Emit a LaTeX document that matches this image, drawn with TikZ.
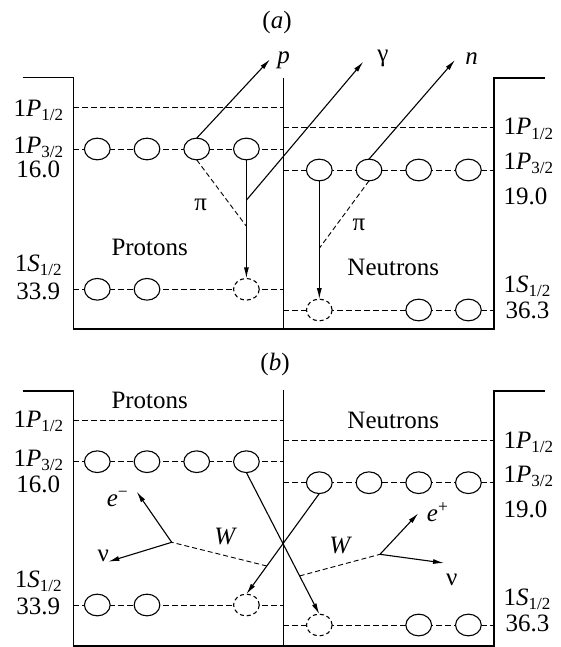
\documentclass[tikz,border=0pt]{standalone}
\usepackage{fontspec}
\setmainfont{Liberation Serif}
\usetikzlibrary{shapes.geometric, positioning, arrows.meta, calc, backgrounds}

\newcommand{\lsub}[1]{\raisebox{-4.2pt}[\height][0pt]{\fontsize{17}{20}\selectfont #1}}

\begin{document}
\begin{tikzpicture}[
    x=1pt, y=-1pt,
    node distance=24pt,
    wall/.style={line width=1.2pt},
    shell/.style={dash pattern=on 5.5pt off 3.5pt, line width=0.9pt},
    orb/.style={ellipse, draw, fill=white, line width=1.1pt, minimum width=25.7pt, minimum height=21.7pt, inner sep=0pt, outer sep=0pt},
    hole/.style={orb, dash pattern=on 4pt off 3pt},
    arrow/.style={-{Latex[length=11pt, width=5pt]}, line width=1.1pt},
    pion/.style={dash pattern=on 5pt off 3pt, line width=0.9pt},
    txt/.style={font=\fontsize{25}{30}\selectfont, inner sep=0pt},
]
\useasboundingbox (0,0) rectangle (561,647);

%% PANEL (a)
    % frame
    \coordinate (a_lt) at (73.3,77.7);
    \coordinate (a_lb) at (73.3,329);
    \coordinate (a_mt) at (283.3,77.7);
    \coordinate (a_mb) at (283.3,329);
    \coordinate (a_rt) at (494,78);
    \coordinate (a_rb) at (494,329);
    \draw[wall] ([xshift=-50.6pt]a_lt) -- (a_lt) -- (a_lb) -- (a_rb) -- (a_rt) -- ([xshift=51pt]a_rt);
    \draw[wall] (a_mt) -- (a_mb);

    % protons
    \node[orb] (pa1) at (97.3,149) {};
    \node[orb, right=of pa1] (pa2) {};
    \node[orb, right=of pa2] (pa3) {};
    \node[orb, right=of pa3] (pa4) {};
    \node[orb] (pas1) at (97.3,289.3) {};
    \node[orb, right=of pas1] (pas2) {};
    \node[hole] (pah) at (pa4 |- pas1) {};

    % neutrons
    \node[orb] (na1) at (319.3,170) {};
    \node[orb, right=of na1] (na2) {};
    \node[orb, right=of na2] (na3) {};
    \node[orb, right=of na3] (na4) {};
    \node[hole] (nah) at (319.3,310) {};
    \node[orb] (nas3) at (na3 |- nah) {};
    \node[orb] (nas4) at (na4 |- nah) {};

    \begin{scope}[on background layer]
    \draw[shell] (a_lt |- 0,107.3) -- (a_mt |- 0,107.3);
    \draw[shell] (a_lt |- pa1) -- (a_mt |- pa1);
    \draw[shell] (a_lt |- pah) -- (a_mt |- pah);
    \draw[shell] (a_mt |- 0,127.7) -- (a_rt |- 0,127.7);
    \draw[shell] (a_mt |- na1) -- (a_rt |- na1);
    \draw[shell] (a_mt |- nah) -- (a_rt |- nah);
    \end{scope}

    % labels
    \node[txt, anchor=base] (lab_a) at (277,29) {(\textit{a})};
    \node[txt, anchor=base] (pa_p12) at (38.3,116.7) {1\textit{P}\lsub{1/2}};
    \node[txt, anchor=base] (pa_p32) at (38.3,153.5) {1\textit{P}\lsub{3/2}};
    \node[txt, anchor=base] (pa_ep) at (38.3,178) {16.0};
    \node[txt, anchor=base] (pa_s12) at (38.3,271.7) {1\textit{S}\lsub{1/2}};
    \node[txt, anchor=base] (pa_es) at (38.3,299.3) {33.9};
    \node[txt, anchor=base west] (na_p12) at (503.5,135) {1\textit{P}\lsub{1/2}};
    \node[txt, anchor=base west] (na_p32) at (503.5,169.5) {1\textit{P}\lsub{3/2}};
    \node[txt, anchor=base west] (na_ep) at (503.5,204) {19.0};
    \node[txt, anchor=base west] (na_s12) at (503.5,292) {1\textit{S}\lsub{1/2}};
    \node[txt, anchor=base west] (na_es) at (505.5,318) {36.3};
    \node[txt, anchor=base] (prot_a) at (149.7,255) {Protons};
    \node[txt, anchor=base] (neut_a) at (393.3,275) {Neutrons};
    \node[txt, anchor=base] (lab_p) at (283.5,63.5) {\textit{p}};
    \node[txt, anchor=base] (lab_g) at (383,62) {γ};
    \node[txt, anchor=base] (lab_n) at (471.7,65) {\textit{n}};
    \node[txt, anchor=base] (pi_p) at (200.8,210) {π};
    \node[txt, anchor=base] (pi_n) at (359,230) {π};

    % connections
    \coordinate (p_tip) at (270,59.3);
    \coordinate (g_tip) at (363.3,61.7);
    \coordinate (n_tip) at (455,60);
    \coordinate (a_gam) at ($(pa4.south)!0.34!(pah.north)$);
    \coordinate (a_pip) at ($(pa4.south)!0.56!(pah.north)$);
    \coordinate (a_pin) at ($(na1.south)!0.57!(nah.north)$);
    \draw[arrow] (pa3.north) -- (p_tip);
    \draw[arrow] (pa4.south) -- (pah.north);
    \draw[arrow] (a_gam) -- (g_tip);
    \draw[pion] (pa3.south) -- (a_pip);
    \draw[arrow] (na2.north) -- (n_tip);
    \draw[arrow] (na1.south) -- (nah.north);
    \draw[pion] (na2.south) -- (a_pin);

%% PANEL (b)
    % frame
    \coordinate (b_lt) at (73.3,391);
    \coordinate (b_lb) at (73.3,646);
    \coordinate (b_mt) at (283.3,390);
    \coordinate (b_mb) at (283.3,646);
    \coordinate (b_rt) at (494,391);
    \coordinate (b_rb) at (494,646);
    \draw[wall] ([xshift=-50.6pt]b_lt) -- (b_lt) -- (b_lb) -- (b_rb) -- (b_rt) -- ([xshift=51pt]b_rt);
    \draw[wall] (b_mt) -- (b_mb);

    % protons
    \node[orb] (pb1) at (97.3,461.7) {};
    \node[orb, right=of pb1] (pb2) {};
    \node[orb, right=of pb2] (pb3) {};
    \node[orb, right=of pb3] (pb4) {};
    \node[orb] (pbs1) at (97.3,605) {};
    \node[orb, right=of pbs1] (pbs2) {};
    \node[hole] (pbh) at (pb4 |- pbs1) {};

    % neutrons
    \node[orb] (nb1) at (319.3,482.7) {};
    \node[orb, right=of nb1] (nb2) {};
    \node[orb, right=of nb2] (nb3) {};
    \node[orb, right=of nb3] (nb4) {};
    \node[hole] (nbh) at (319.3,625) {};
    \node[orb] (nbs3) at (nb3 |- nbh) {};
    \node[orb] (nbs4) at (nb4 |- nbh) {};

    \begin{scope}[on background layer]
    \draw[shell] (b_lt |- 0,420) -- (b_mt |- 0,420);
    \draw[shell] (b_lt |- pb1) -- (b_mt |- pb1);
    \draw[shell] (b_lt |- pbh) -- (b_mt |- pbh);
    \draw[shell] (b_mt |- 0,440) -- (b_rt |- 0,440);
    \draw[shell] (b_mt |- nb1) -- (b_rt |- nb1);
    \draw[shell] (b_mt |- nbh) -- (b_rt |- nbh);
    \end{scope}

    % labels
    \node[txt, anchor=base] (lab_b) at (275,370) {(\textit{b})};
    \node[txt, anchor=base] (pb_p12) at (38.3,427.5) {1\textit{P}\lsub{1/2}};
    \node[txt, anchor=base] (pb_p32) at (38.3,466) {1\textit{P}\lsub{3/2}};
    \node[txt, anchor=base] (pb_ep) at (38.3,492.5) {16.0};
    \node[txt, anchor=base] (pb_s12) at (38.3,587) {1\textit{S}\lsub{1/2}};
    \node[txt, anchor=base] (pb_es) at (38.3,614) {33.9};
    \node[txt, anchor=base west] (nb_p12) at (503.5,448) {1\textit{P}\lsub{1/2}};
    \node[txt, anchor=base west] (nb_p32) at (503.5,482.5) {1\textit{P}\lsub{3/2}};
    \node[txt, anchor=base west] (nb_ep) at (503.5,517) {19.0};
    \node[txt, anchor=base west] (nb_s12) at (503.5,605.5) {1\textit{S}\lsub{1/2}};
    \node[txt, anchor=base west] (nb_es) at (505.5,631.5) {36.3};
    \node[txt, anchor=base] (prot_b) at (149.7,408.3) {Protons};
    \node[txt, anchor=base] (neut_b) at (393.3,428.3) {Neutrons};
    \node[txt, anchor=base west] (lab_em) at (106.7,506.7) {\textit{e}\textsuperscript{−}};
    \node[txt, anchor=base] (lab_nul) at (103.3,561.7) {ν};
    \node[txt, anchor=base] (lab_wl) at (225.8,544) {\textit{W}};
    \node[txt, anchor=base] (lab_wr) at (340.8,553.3) {\textit{W}};
    \node[txt, anchor=base west] (lab_ep) at (426.7,521.7) {\textit{e}\textsuperscript{+}};
    \node[txt, anchor=base] (lab_nur) at (451.7,585) {ν};

    % connections
    \coordinate (vl) at (171.7,542.3);
    \coordinate (vr) at (380,554.3);
    \coordinate (em_tip) at (136.7,491.7);
    \coordinate (nul_tip) at (108.3,561.7);
    \coordinate (ep_tip) at (418.3,513.3);
    \coordinate (nur_tip) at (444,563);
    \coordinate (wl) at ($(nb1.south)!0.72!(pbh.north)$);
    \coordinate (wr) at ($(pb4.south)!0.73!(nbh.north)$);
    \draw[arrow] (pb4.south) -- (nbh.north);
    \draw[arrow] (nb1.south) -- (pbh.north);
    \draw[pion] (wl) -- (vl);
    \draw[pion] (wr) -- (vr);
    \draw[arrow] (vl) -- (em_tip);
    \draw[arrow] (vl) -- (nul_tip);
    \draw[arrow] (vr) -- (ep_tip);
    \draw[arrow] (vr) -- (nur_tip);

\end{tikzpicture}
\end{document}
